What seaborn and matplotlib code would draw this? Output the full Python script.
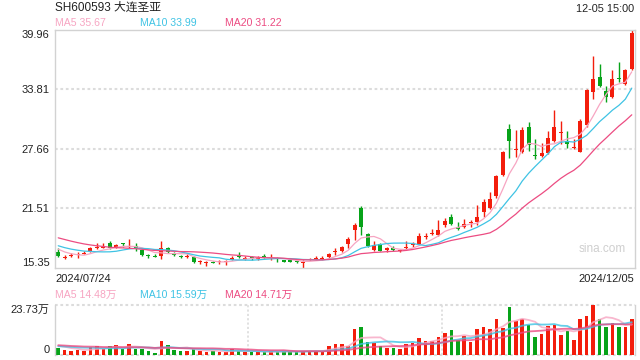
import numpy as np
import pandas as pd
import matplotlib
matplotlib.use('Agg')
import matplotlib.pyplot as plt
import seaborn as sns

# SH600593 daily candles, 2024/07/24 - 2024/12/05 (90 sessions)
opens = [16.96, 16.41, 16.62, 16.72, 16.82, 17.13, 17.46, 17.46, 17.89, 17.48,
         17.87, 17.52, 17.65, 17.20, 16.60, 16.57, 16.62, 17.37, 16.93, 16.54,
         16.46, 16.52, 15.98, 15.91, 15.95, 15.98, 15.98, 16.21, 16.55, 16.33,
         16.43, 16.28, 16.54, 16.40, 16.30, 16.17, 16.17, 16.02, 15.91, 16.22,
         16.26, 16.26, 16.48, 17.00, 17.10, 17.78, 19.25, 21.58, 18.91, 17.20,
         17.88, 17.20, 17.37, 17.08, 17.45, 17.71, 17.88, 18.55, 18.86, 18.81,
         19.84, 20.66, 19.60, 19.56, 20.00, 20.11, 21.17, 21.55, 22.82, 24.97,
         29.70, 27.59, 27.31, 29.98, 27.08, 26.90, 27.23, 28.50, 29.31, 28.50,
         27.80, 27.37, 30.11, 33.53, 35.08, 33.64, 33.02, 34.96, 34.33, 35.94]
highs = [17.37, 16.69, 16.86, 16.96, 17.10, 17.54, 17.95, 17.89, 18.16, 17.85,
         17.92, 18.40, 17.95, 17.30, 16.76, 16.76, 18.16, 17.51, 17.03, 16.69,
         16.76, 16.62, 16.17, 16.11, 16.07, 16.17, 16.17, 16.62, 16.96, 16.62,
         16.62, 16.62, 16.76, 16.76, 16.52, 16.20, 16.20, 16.17, 16.17, 16.41,
         16.62, 16.62, 16.86, 17.44, 17.65, 18.57, 20.04, 21.72, 18.95, 18.16,
         17.95, 17.47, 17.61, 17.27, 18.12, 18.06, 18.98, 18.98, 19.43, 20.35,
         20.52, 20.97, 20.11, 20.45, 20.28, 21.89, 22.44, 23.26, 24.97, 27.44,
         30.22, 29.63, 29.88, 30.42, 28.67, 28.26, 29.53, 31.68, 30.52, 29.53,
         28.67, 30.73, 33.81, 37.23, 36.48, 34.15, 35.87, 36.62, 35.97, 39.96]
lows = [16.52, 16.28, 16.52, 16.41, 16.76, 17.03, 17.30, 17.37, 17.30, 17.37,
        17.54, 17.37, 17.10, 16.62, 16.41, 16.48, 16.28, 16.89, 16.62, 16.41,
        16.35, 15.90, 15.73, 15.59, 15.83, 15.80, 15.66, 16.14, 16.35, 16.17,
        16.21, 16.21, 16.35, 16.17, 15.93, 15.98, 15.98, 15.83, 15.35, 16.17,
        16.14, 16.21, 16.41, 16.69, 17.03, 17.44, 18.23, 18.74, 17.54, 17.13,
        17.10, 16.96, 17.10, 16.96, 17.30, 17.54, 17.78, 18.33, 18.74, 18.67,
        19.60, 19.77, 19.32, 19.49, 19.60, 19.84, 20.59, 21.48, 22.61, 24.87,
        26.69, 26.79, 27.23, 27.47, 26.62, 26.79, 27.13, 28.40, 28.16, 27.72,
        27.65, 27.31, 29.98, 32.78, 34.05, 32.51, 32.96, 34.56, 34.25, 35.87]
closes = [16.58, 16.45, 16.68, 16.78, 16.88, 17.37, 17.50, 17.50, 17.37, 17.72,
          17.83, 17.56, 17.37, 16.69, 16.56, 16.53, 17.44, 16.96, 16.69, 16.50,
          16.50, 16.00, 16.02, 15.95, 15.91, 16.02, 16.03, 16.35, 16.50, 16.38,
          16.39, 16.41, 16.50, 16.44, 16.26, 16.00, 16.00, 15.98, 15.95, 16.26,
          16.30, 16.30, 16.76, 17.05, 17.48, 18.33, 19.84, 19.56, 17.61, 17.71,
          17.10, 17.37, 17.16, 17.12, 17.49, 17.88, 18.64, 18.59, 18.90, 19.32,
          20.25, 19.87, 19.36, 19.94, 20.04, 20.66, 22.20, 22.51, 24.87, 27.37,
          28.50, 27.70, 29.60, 28.06, 26.98, 27.23, 28.78, 29.91, 29.41, 28.16,
          27.90, 30.52, 33.74, 34.94, 34.22, 33.02, 34.91, 34.86, 35.80, 39.60]
# volume in 万 (10k lots)
volumes = [3.16, 2.37, 2.06, 2.37, 2.06, 3.64, 4.27, 2.85, 4.27, 4.59,
           3.01, 5.22, 3.01, 3.01, 1.90, 1.11, 6.65, 4.75, 2.37, 2.06,
           2.06, 3.01, 2.06, 1.42, 2.06, 1.42, 1.42, 3.01, 2.06, 1.42,
           1.42, 1.42, 1.58, 1.74, 1.58, 1.74, 1.58, 1.58, 2.06, 2.06,
           2.06, 1.58, 4.27, 5.22, 5.22, 4.27, 12.34, 13.29, 6.17, 5.70,
           4.27, 3.32, 3.32, 2.85, 5.22, 5.70, 8.07, 6.65, 6.65, 8.54,
           10.44, 11.87, 7.12, 9.02, 6.17, 12.34, 13.29, 12.34, 17.09, 12.82,
           22.78, 16.14, 17.09, 14.24, 8.54, 9.97, 13.77, 14.24, 9.49, 11.39,
           7.12, 17.09, 18.51, 23.73, 17.09, 13.29, 15.19, 13.29, 13.29, 17.09]
# sessions before the window (only feed the moving averages at the left edge)
prev_closes = [19.9, 20.1, 19.8, 19.6, 19.5, 19.2, 19.0, 18.9, 18.6, 18.3,
               18.4, 18.2, 17.9, 17.8, 17.7, 17.9, 17.6, 17.3, 17.12]
prev_volumes = [5.5, 6.0, 4.8, 5.2, 4.5, 5.0, 5.8, 4.2, 4.9, 5.4,
                4.0, 3.6, 4.3, 3.8, 4.1, 4.6, 5.2, 4.0, 4.9]

price_ticks = [15.35, 21.51, 27.66, 33.81, 39.96]
price_labels = ['15.35', '21.51', '27.66', '33.81', '39.96']
vol_top = 23.73
title = 'SH600593 大连圣亚'
stamp = '12-05 15:00'
date_first, date_last = '2024/07/24', '2024/12/05'
ma_price_text = ['MA5 35.67', 'MA10 33.99', 'MA20 31.22']
ma_vol_text = ['MA5 14.48万', 'MA10 15.59万', 'MA20 14.71万']

RED, GREEN = '#f31d0c', '#07a319'
MA_COLORS = ['#f7a5c2', '#3fc3e4', '#ec4c82']
GRID = '#dcdcdc'
EDGE = '#d2d2d2'
TXT = '#222222'

sns.set_theme(style='white')
plt.rcParams['font.family'] = ['Liberation Sans', 'Noto Sans CJK SC']

n = len(closes)
days = np.arange(n)
o, h, l, c = map(np.array, (opens, highs, lows, closes))
colors = np.where(c >= o, RED, GREEN)

pc = pd.Series(prev_closes + closes)
pv = pd.Series(prev_volumes + volumes)
k = len(prev_closes)
ma = pd.DataFrame({'day': days})
for w in (5, 10, 20):
    ma[f'p{w}'] = pc.rolling(w).mean().iloc[k:].to_numpy()
    ma[f'v{w}'] = pv.rolling(w).mean().iloc[k:].to_numpy()

fig = plt.figure(figsize=(6.4, 3.6), dpi=100)
ax = fig.add_axes([55/640, 1-268/360, 580/640, 238/360])
axv = fig.add_axes([55/640, 5/360, 580/640, 50/360])

# price panel
body_lo = np.minimum(o, c)
body_h = np.maximum(np.abs(c - o), 0.1)
ax.vlines(days, l, h, colors=colors, lw=1.0, zorder=2)
ax.bar(days, body_h, bottom=body_lo, width=0.62, color=colors, linewidth=0, zorder=2)
for w, col in zip((5, 10, 20), MA_COLORS):
    sns.lineplot(data=ma, x='day', y=f'p{w}', ax=ax, color=col, linewidth=0.9, zorder=3)
ax.set_xlim(-0.5, n - 0.5)
ax.set_ylim(price_ticks[0], price_ticks[-1])
ax.set_yticks(price_ticks)
ax.set_yticklabels(price_labels)
ax.set_xticks([])
ax.set_xlabel('')
ax.set_ylabel('')
for y in price_ticks[1:-1]:
    ax.axhline(y, color=GRID, lw=1.5, ls=(0, (1.3, 1.3)), zorder=1)
ax.tick_params(axis='y', length=0, pad=4, labelsize=8, labelcolor=TXT)
labs = ax.get_yticklabels()
labs[0].set_va('bottom')
labs[-1].set_va('top')
for s in ax.spines.values():
    s.set_color(EDGE)
    s.set_linewidth(1.0)
ax.text(0.985, 0.08, 'sina.com', transform=ax.transAxes, ha='right', va='center',
        fontsize=8.5, color='#cfcfcf')

# volume panel
axv.bar(days, volumes, width=0.55, color=colors, linewidth=0, zorder=2)
for w, col in zip((5, 10, 20), MA_COLORS):
    sns.lineplot(data=ma, x='day', y=f'v{w}', ax=axv, color=col, linewidth=1.3,
                 alpha=0.8, zorder=3)
axv.set_xlim(-0.5, n - 0.5)
axv.set_ylim(0, vol_top)
axv.set_yticks([0, vol_top])
axv.set_yticklabels(['0', f'{vol_top:.2f}万'])
axv.set_xticks([])
axv.set_xlabel('')
axv.set_ylabel('')
axv.tick_params(axis='y', length=0, pad=4, labelsize=8, labelcolor=TXT)
vl = axv.get_yticklabels()
vl[0].set_va('bottom')
vl[1].set_va('top')
for y in (0, vol_top):
    axv.axhline(y, color=GRID, lw=1.5, ls=(0, (1.3, 1.3)), zorder=1, clip_on=False)
for x in (-0.5 + n / 3, -0.5 + 2 * n / 3):
    axv.axvline(x, color=GRID, lw=1.2, ls=(0, (1.3, 1.3)), zorder=1)
axv.spines['top'].set_visible(False)
axv.spines['bottom'].set_visible(False)
for side in ('left', 'right'):
    axv.spines[side].set_color(EDGE)
    axv.spines[side].set_linewidth(1.0)

# header and labels
fig.text(55/640, 1 - 8/360, title, ha='left', va='center', fontsize=8.5, color=TXT)
fig.text(634/640, 1 - 9/360, stamp, ha='right', va='center', fontsize=7.8, color=TXT)
for xpx, txt, col in zip((55, 140, 225), ma_price_text, MA_COLORS):
    fig.text(xpx/640, 1 - 23/360, txt, ha='left', va='center', fontsize=7.6, color=col)
fig.text(55/640, 1 - 279/360, date_first, ha='left', va='center', fontsize=8, color=TXT)
fig.text(634/640, 1 - 279/360, date_last, ha='right', va='center', fontsize=8, color=TXT)
for xpx, txt, col in zip((55, 140, 225), ma_vol_text, MA_COLORS):
    fig.text(xpx/640, 1 - 295/360, txt, ha='left', va='center', fontsize=7.6, color=col)

fig.savefig('out.png', dpi=100, facecolor='white')
